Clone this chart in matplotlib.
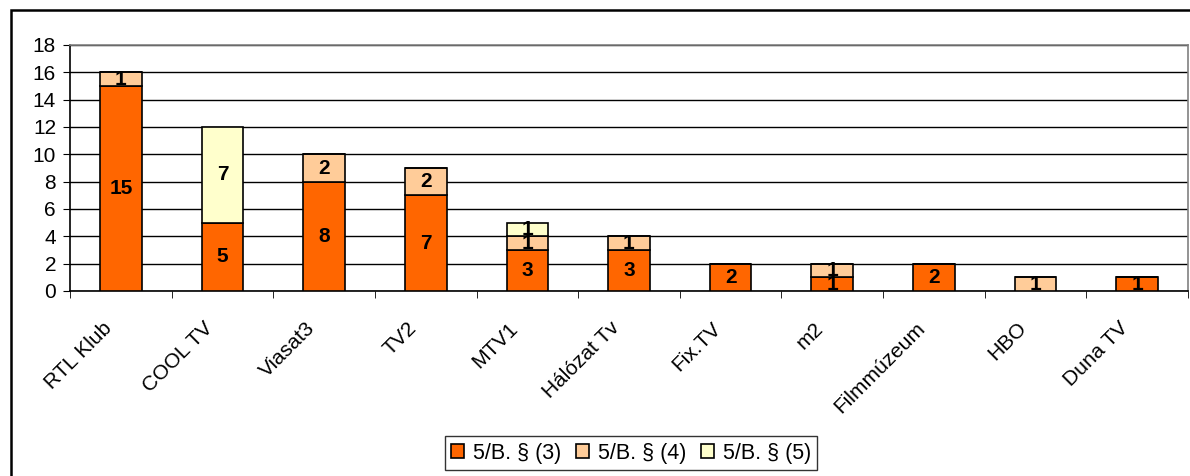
import numpy as np
import matplotlib.pyplot as plt
from matplotlib.patches import Rectangle
from matplotlib.transforms import ScaledTranslation

plt.rcParams['font.family'] = ['Liberation Sans', 'DejaVu Sans']

# channels and counts per paragraph
channels = ["RTL Klub", "COOL TV", "Viasat3", "TV2", "MTV1", "Hálózat Tv",
            "Fix.TV", "m2", "Filmmúzeum", "HBO", "Duna TV"]
p3 = [15, 5, 8, 7, 3, 3, 2, 1, 2, 0, 1]
p4 = [1, 0, 2, 2, 1, 1, 0, 1, 0, 1, 0]
p5 = [0, 7, 0, 0, 1, 0, 0, 0, 0, 0, 0]
series_names = ["5/B. § (3)", "5/B. § (4)", "5/B. § (5)"]
colors = ["#FF6600", "#FFCC99", "#FFFFCC"]

fig = plt.figure(figsize=(11.9, 4.76), dpi=100)
ax = fig.add_axes([70 / 1190, 1 - 291 / 476, (1188 - 70) / 1190, (291 - 45) / 476])

x = np.arange(len(channels))
bottom = np.zeros(len(channels))
for vals, name, col in zip([p3, p4, p5], series_names, colors):
    vals = np.array(vals, dtype=float)
    bars = ax.bar(x, vals, 0.41, bottom=bottom, color=col, edgecolor="black",
                  linewidth=1.2, label=name, zorder=3)
    for xi, v, b in zip(x, vals, bottom):
        if v > 0:
            ax.text(xi, b + v / 2, str(int(v)), ha="center", va="center",
                    fontsize=15, fontweight="bold", zorder=4)
    bottom += vals

ax.set_xlim(-0.5, len(channels) - 0.5)
ax.set_ylim(0, 18)
ax.set_yticks(range(0, 19, 2))
ax.yaxis.grid(True, color="black", linewidth=1, zorder=0)
ax.tick_params(axis="y", labelsize=15, length=5, direction="out", color="black", pad=5)
ax.set_xticks(x)
ax.set_xticklabels(channels, rotation=45, ha="right", rotation_mode="anchor", fontsize=15)
ax.tick_params(axis="x", length=0, pad=9)
ax.set_xticks(np.arange(-0.5, len(channels)), minor=True)
ax.tick_params(axis="x", which="minor", length=5, direction="out")

# shift rotated labels so their ends sit left of the category centre
shift = ScaledTranslation(-0.19, -0.15, fig.dpi_scale_trans)
for lab in ax.get_xticklabels():
    lab.set_transform(lab.get_transform() + shift)

for s in ["top", "right"]:
    ax.spines[s].set_color("gray")
    ax.spines[s].set_linewidth(1.2)
ax.spines["left"].set_linewidth(1.2)
ax.spines["bottom"].set_linewidth(1.2)

leg = fig.legend(loc="center", bbox_to_anchor=(631 / 1190, 1 - 453 / 476), ncol=3,
                 fontsize=15.5, frameon=True, fancybox=False, handlelength=0.6,
                 handleheight=0.6, handletextpad=0.4, columnspacing=0.7,
                 borderpad=0.3)
leg.get_frame().set_edgecolor("black")
leg.get_frame().set_linewidth(1)

# chart border
fig.patches.append(Rectangle((11 / 1190, -0.1), 1.1, 1 - 10 / 476 + 0.1,
                             transform=fig.transFigure, fill=False,
                             edgecolor="black", linewidth=1.8))

fig.savefig("out.png", dpi=100)
